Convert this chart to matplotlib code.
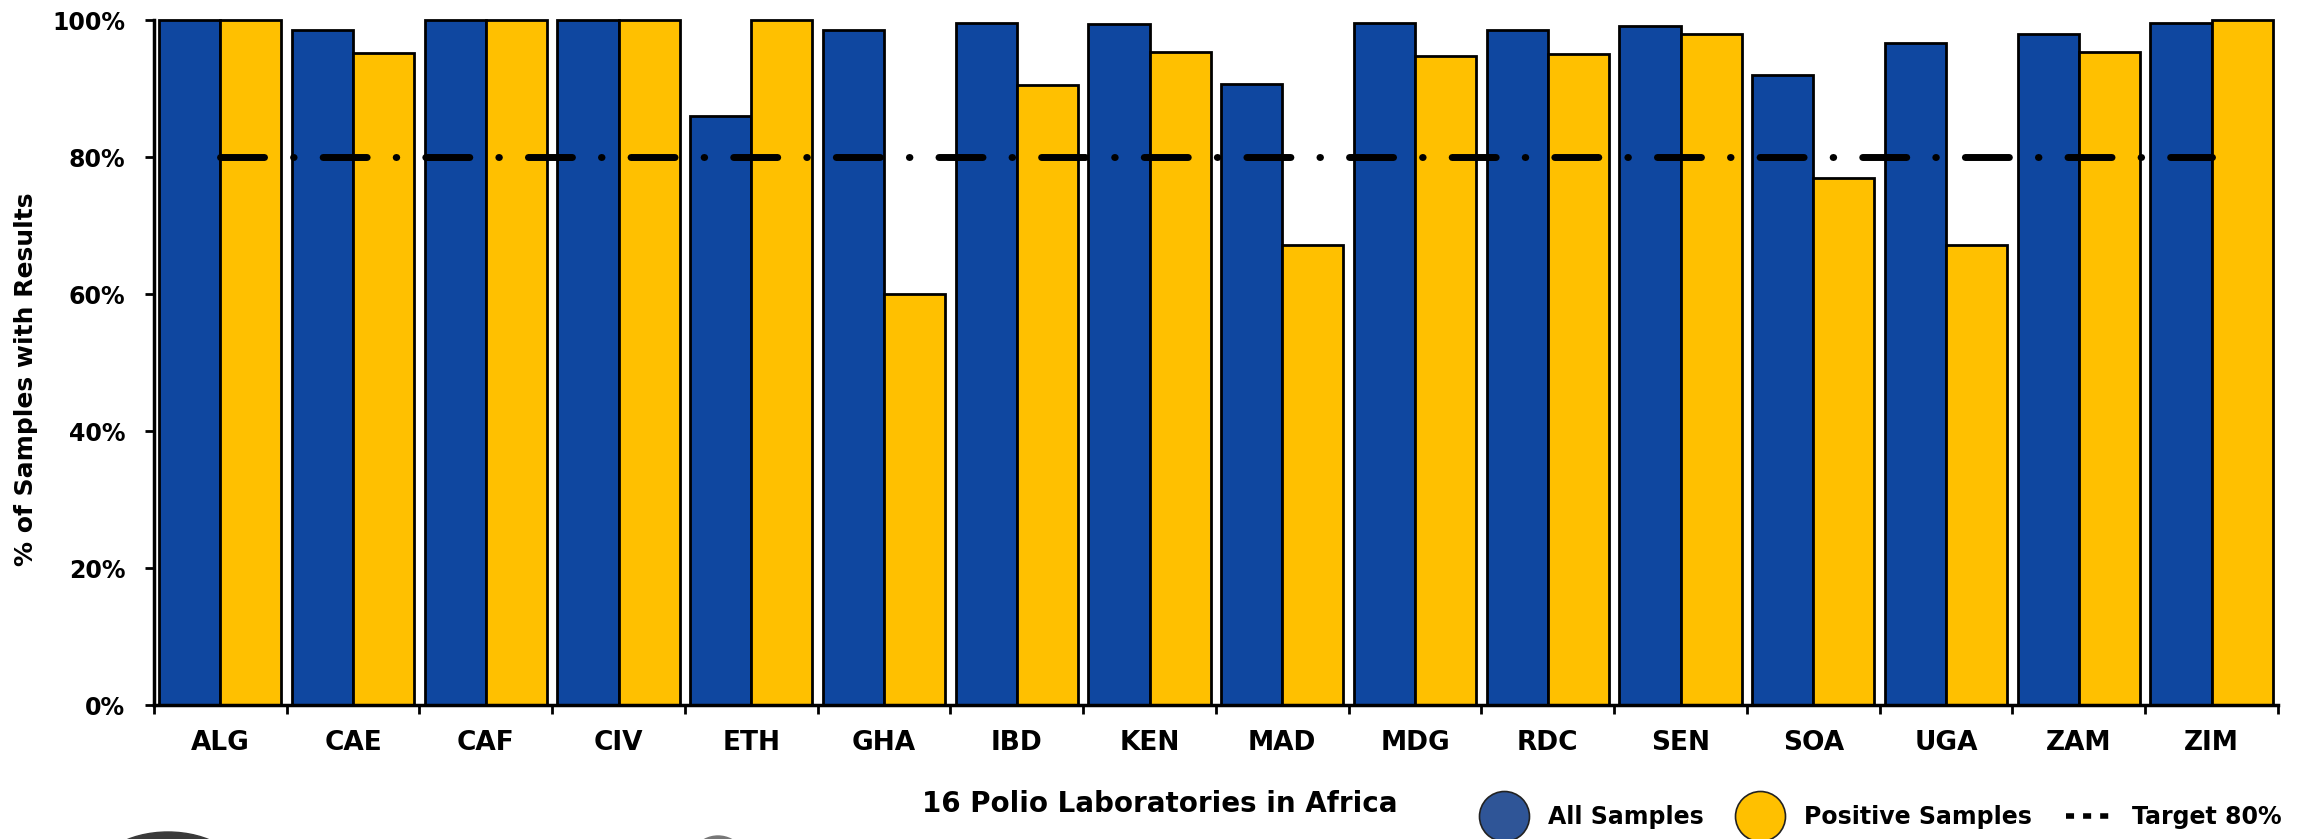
import matplotlib
matplotlib.use("Agg")
import matplotlib.pyplot as plt
from matplotlib.lines import Line2D
from matplotlib.patches import Ellipse
import numpy as np

# Data
labs = ['ALG', 'CAE', 'CAF', 'CIV', 'ETH', 'GHA', 'IBD', 'KEN',
        'MAD', 'MDG', 'RDC', 'SEN', 'SOA', 'UGA', 'ZAM', 'ZIM']
all_samples = [100, 98.5, 100, 100, 86.0, 98.5, 99.6, 99.4,
               90.6, 99.6, 98.5, 99.1, 92.0, 96.6, 97.9, 99.5]
positive_samples = [100, 95.2, 100, 100, 100, 60.0, 90.5, 95.4,
                    67.1, 94.7, 95.0, 97.9, 76.9, 67.1, 95.4, 100]
target = 80
yticks = [0, 20, 40, 60, 80, 100]

blue = '#0F47A0'
yellow = '#FFC000'

plt.rcParams['font.family'] = ['DejaVu Sans']
plt.rcParams['font.weight'] = 'bold'
plt.rcParams['lines.scale_dashes'] = False

fig = plt.figure(figsize=(22.97, 8.39), dpi=100)
ax = fig.add_axes([0.067, 0.1597, 0.9247, 0.8164])

x = np.arange(len(labs))
w = 0.46
ax.bar(x - w / 2, all_samples, w, color=blue, edgecolor='black', linewidth=2, clip_on=False)
ax.bar(x + w / 2, positive_samples, w, color=yellow, edgecolor='black', linewidth=2, clip_on=False)

# target line, long dash / dot
ax.plot([x[0], x[-1]], [target, target], color='black', lw=5,
        dashes=(31.7, 20.9, 0.4, 20.9), dash_capstyle='round', zorder=5)

ax.set_xlim(-0.5, len(labs) - 0.5)
ax.set_ylim(0, 100)
for s in ['top', 'right']:
    ax.spines[s].set_visible(False)
for s in ['left', 'bottom']:
    ax.spines[s].set_linewidth(2.5)

# category ticks at group boundaries, labels at centres
ax.set_xticks(np.arange(-0.5, len(labs)))
ax.set_xticklabels([])
ax.tick_params(axis='x', which='major', direction='out', length=6.5, width=2)
ax.set_xticks(x, minor=True)
ax.set_xticklabels(labs, minor=True, fontsize=19, fontweight='bold')
ax.tick_params(axis='x', which='minor', length=0, pad=18)

ax.set_yticks(yticks)
ax.set_yticklabels([f'{v}%' for v in yticks], fontsize=17, fontweight='bold')
ax.tick_params(axis='y', direction='out', length=6.5, width=2, pad=14)

ax.set_ylabel('% of Samples with Results', fontsize=18, fontweight='bold')
ax.yaxis.set_label_coords(-0.0545, 0.476)

fig.text(1160 / 2297, 1 - 804 / 839, '16 Polio Laboratories in Africa',
         ha='center', va='center', fontsize=20, fontweight='bold')

handles = [
    Line2D([], [], ls='none', marker='o', markersize=36, markerfacecolor='#2F5597',
           markeredgecolor='#222222', markeredgewidth=1.2),
    Line2D([], [], ls='none', marker='o', markersize=36, markerfacecolor=yellow,
           markeredgecolor='#222222', markeredgewidth=1.2),
    Line2D([], [], color='black', lw=4, dashes=(5.8, 6.5), dash_capstyle='butt'),
]
fig.legend(handles, ['All Samples', 'Positive Samples', 'Target 80%'],
           loc='center left', bbox_to_anchor=(1482 / 2297, 0.026), ncol=3, frameon=False,
           handlelength=1.85, handletextpad=0.95, columnspacing=1.45,
           borderpad=0, borderaxespad=0,
           prop={'weight': 'bold', 'size': 17})

# grey shapes peeking in at the bottom edge
fig.patches.append(Ellipse((168 / 2297, -40 / 839), 150 / 2297, 94 / 839,
                           transform=fig.transFigure, color='#3a3a3a', figure=fig))
fig.patches.append(Ellipse((718 / 2297, -40 / 839), 70 / 2297, 86 / 839,
                           transform=fig.transFigure, color='#777777', figure=fig))

fig.savefig('out.png', dpi=100)
